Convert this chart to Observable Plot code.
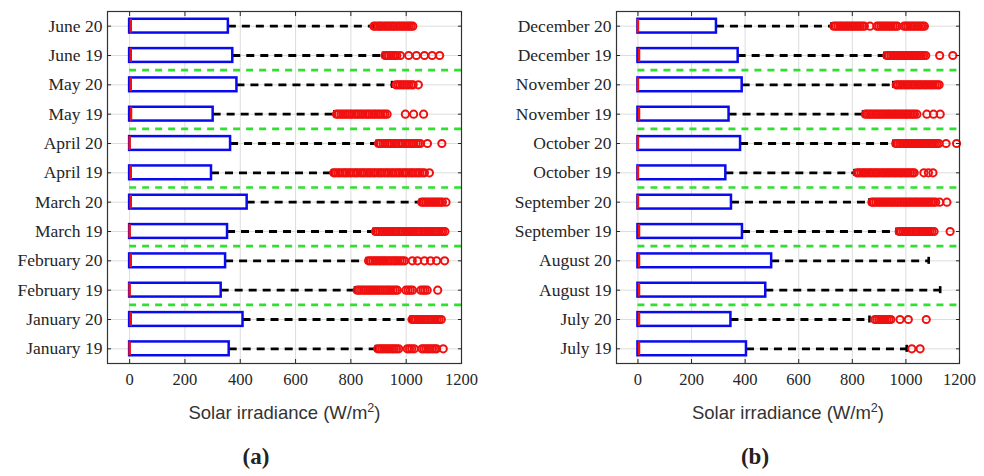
<!DOCTYPE html>
<html>
<head>
<meta charset="utf-8">
<script src="https://cdn.jsdelivr.net/npm/d3@7"></script>
<script src="https://cdn.jsdelivr.net/npm/@observablehq/plot@0.6"></script>
<style>
  body { margin: 0; background: #fff; }
  #wrap { display: flex; width: 984px; height: 476px; }
  .panel { position: relative; height: 476px; }
  .cap {
    position: absolute; top: 444px; transform: translateX(-50%);
    font-family: "Liberation Serif", serif; font-weight: bold; font-size: 23px; color: #222;
  }
</style>
</head>
<body>
<div id="wrap">
  <div class="panel" id="pa" style="width:490px"><div class="cap" style="left:256px">(a)</div></div>
  <div class="panel" id="pb" style="width:494px"><div class="cap" style="left:265px">(b)</div></div>
</div>
<script>
// Hourly solar irradiance (W/m²) per month, 2019 vs 2020 — box plot summaries.
const xTicks = [0, 200, 400, 600, 800, 1000, 1200];
const xLabelMain = "Solar irradiance (W/m";
const xLabelSup = "2";
const xLabelEnd = ")";

// Panel (a): January–June, listed top to bottom
const labelsA = ["June 20", "June 19", "May 20", "May 19", "April 20", "April 19",
  "March 20", "March 19", "February 20", "February 19", "January 20", "January 19"];
const q1A = [0, 0, 0, 0, 0, 0, 0, 0, 0, 0, 0, 0];
const medianA = [4, 4, 4, 5, 0, 4, 4, 0, 4, 0, 4, 0];
const q3A = [357, 373, 388, 302, 365, 296, 425, 354, 347, 331, 410, 360];
const whiskerA = [880, 916, 949, 740, 893, 732, 1050, 882, 857, 815, 1015, 890];
const outliersA = [
  [883, 890, 899, 905, 912, 921, 928, 936, 943, 951, 957, 966, 973, 981, 988, 995, 1004, 1010, 1017, 1024],
  [924, 931, 937, 945, 952, 960, 966, 979, 1009, 1037, 1066, 1094, 1121],
  [963, 971, 978, 986, 993, 1002, 1009, 1018, 1025, 1044],
  [748, 755, 764, 771, 780, 787, 796, 803, 812, 820, 827, 836, 843, 852, 860, 867, 876, 884, 891, 900, 907, 916, 923, 931, 997, 1027, 1063],
  [900, 907, 916, 923, 932, 940, 947, 956, 963, 972, 980, 987, 996, 1004, 1011, 1020, 1027, 1036, 1044, 1051, 1077, 1129],
  [738, 745, 754, 761, 770, 778, 785, 794, 801, 810, 818, 825, 834, 842, 849, 858, 866, 873, 882, 889, 898, 906, 913, 922, 930, 937, 946, 953, 962, 970, 977, 986, 994, 1001, 1010, 1018, 1025, 1034, 1042, 1049, 1058, 1066, 1084],
  [1056, 1063, 1071, 1078, 1086, 1094, 1101, 1109, 1116, 1124, 1131, 1144],
  [889, 896, 904, 912, 919, 926, 934, 942, 949, 957, 964, 972, 980, 987, 995, 1003, 1010, 1018, 1025, 1033, 1041, 1048, 1056, 1064, 1071, 1079, 1086, 1094, 1102, 1110, 1117, 1125, 1132, 1140],
  [864, 871, 879, 887, 894, 902, 909, 917, 924, 932, 939, 947, 955, 962, 970, 978, 986, 994, 1022, 1041, 1066, 1088, 1110, 1139],
  [823, 830, 838, 846, 853, 861, 868, 876, 883, 891, 899, 906, 914, 922, 930, 937, 945, 953, 961, 968, 999, 1007, 1015, 1023, 1053, 1061, 1068, 1076, 1114],
  [1021, 1028, 1036, 1044, 1051, 1058, 1066, 1073, 1081, 1089, 1096, 1104, 1111, 1119, 1127],
  [897, 905, 912, 919, 927, 935, 942, 950, 957, 965, 973, 1004, 1012, 1020, 1029, 1057, 1064, 1072, 1080, 1087, 1095, 1103, 1110, 1134]
];

// Panel (b): July–December, listed top to bottom
const labelsB = ["December 20", "December 19", "November 20", "November 19", "October 20", "October 19",
  "September 20", "September 19", "August 20", "August 19", "July 20", "July 19"];
const q1B = [0, 0, 0, 0, 0, 0, 0, 0, 0, 0, 0, 0];
const medianB = [0, 4, 0, 4, 0, 0, 0, 4, 4, 4, 4, 4];
const q3B = [293, 374, 389, 340, 383, 328, 349, 390, 499, 477, 347, 405];
const whiskerB = [722, 920, 953, 840, 953, 808, 864, 965, 1085, 1128, 864, 1003];
const outliersB = [
  [731, 738, 746, 754, 761, 769, 777, 784, 792, 800, 807, 815, 823, 830, 838, 845, 866, 892, 899, 907, 914, 922, 930, 937, 945, 953, 961, 968, 993, 1001, 1008, 1016, 1024, 1031, 1040, 1047, 1055, 1062, 1069],
  [929, 936, 944, 951, 959, 966, 974, 982, 989, 997, 1005, 1012, 1020, 1028, 1035, 1043, 1051, 1058, 1066, 1074, 1126, 1175],
  [964, 971, 979, 986, 994, 1002, 1009, 1017, 1025, 1032, 1040, 1048, 1055, 1063, 1071, 1078, 1086, 1094, 1101, 1109, 1117, 1124],
  [849, 856, 864, 871, 879, 887, 894, 902, 910, 917, 925, 933, 940, 948, 956, 963, 971, 979, 986, 994, 1002, 1009, 1017, 1025, 1032, 1041, 1078, 1103, 1128],
  [962, 969, 977, 984, 992, 1000, 1007, 1015, 1023, 1030, 1038, 1046, 1053, 1061, 1069, 1076, 1084, 1092, 1099, 1107, 1115, 1123, 1150, 1189],
  [818, 825, 833, 841, 848, 856, 864, 871, 879, 887, 894, 902, 910, 917, 925, 933, 940, 948, 956, 963, 971, 979, 986, 994, 1002, 1009, 1017, 1025, 1031, 1067, 1084, 1101],
  [873, 880, 888, 896, 903, 911, 919, 926, 934, 942, 949, 957, 965, 972, 980, 988, 995, 1003, 1011, 1018, 1026, 1034, 1041, 1049, 1057, 1064, 1072, 1080, 1087, 1095, 1103, 1111, 1126, 1153],
  [975, 982, 990, 997, 1005, 1013, 1020, 1028, 1036, 1043, 1051, 1059, 1066, 1074, 1082, 1089, 1097, 1105, 1165],
  [],
  [],
  [884, 891, 899, 906, 914, 921, 929, 937, 944, 978, 1009, 1076],
  [1022, 1053]
];

// Half heights of box, median line and whisker cap, in row units
const BOX_HALF = 0.235;
const CAP_HALF = 0.12;

const SERIF = "'Liberation Serif', 'Times New Roman', serif";
const SANS = "'Liberation Sans', Arial, sans-serif";

function boxPanel({labels, q1, median, q3, whisker, outliers, width, marginLeft, marginRight}) {
  const rows = labels.map((label, i) => ({
    label, pos: i + 1, q1: q1[i], median: median[i], q3: q3[i], whisker: whisker[i]
  }));
  const positions = rows.map(d => d.pos);
  const dots = outliers.flatMap((vals, i) => vals.map(v => ({pos: i + 1, value: v})));
  // dashed separators between months (where the month name changes)
  const month = s => s.split(" ")[0];
  const seps = rows.slice(0, -1)
    .filter((d, i) => month(d.label) !== month(rows[i + 1].label))
    .map(d => d.pos + 0.5);

  const svg = Plot.plot({
    width, height: 440,
    marginLeft, marginRight, marginTop: 11, marginBottom: 77,
    style: {color: "#262626", background: "transparent", overflow: "visible"},
    x: {domain: [-80, 1200]},
    y: {domain: [0.5, labels.length + 0.5], reverse: true},
    marks: [
      Plot.gridX(xTicks, {stroke: "#dcdcdc", strokeOpacity: 1}),
      Plot.gridY(positions, {stroke: "#dcdcdc", strokeOpacity: 1}),
      Plot.ruleY(seps, {x1: 0, x2: 1200, stroke: "#2fe02f", strokeWidth: 2.6, strokeDasharray: "7,6"}),
      Plot.ruleY(rows, {y: "pos", x1: "q3", x2: "whisker", stroke: "#000", strokeWidth: 2.8, strokeDasharray: "8,6"}),
      Plot.ruleX(rows, {x: "whisker", y1: d => d.pos - CAP_HALF, y2: d => d.pos + CAP_HALF, stroke: "#000", strokeWidth: 2.6}),
      Plot.rect(rows, {x1: "q1", x2: "q3", y1: d => d.pos - BOX_HALF, y2: d => d.pos + BOX_HALF,
        fill: "#fff", stroke: "#0a0aee", strokeWidth: 2.5}),
      Plot.ruleX(rows, {x: "median", y1: d => d.pos - BOX_HALF, y2: d => d.pos + BOX_HALF, stroke: "#f01010", strokeWidth: 2.5}),
      Plot.dot(dots, {x: "value", y: "pos", r: 3.6, stroke: "#f01010", strokeWidth: 2, fill: "none"}),
      Plot.frame({stroke: "#333", strokeWidth: 1.2}),
      Plot.axisY({ticks: positions, tickFormat: p => labels[p - 1], tickSize: 0, tickPadding: 5,
        fontSize: 17.5, fontFamily: SERIF, label: null}),
      Plot.axisY({anchor: "left", ticks: positions, tickSize: -4, tickFormat: () => "", label: null}),
      Plot.axisY({anchor: "right", ticks: positions, tickSize: -4, tickFormat: () => "", label: null}),
      Plot.axisX({ticks: xTicks, tickSize: 0, tickPadding: 10, tickFormat: d => `${d}`,
        fontSize: 16.5, fontFamily: SERIF, label: null}),
      Plot.axisX({anchor: "bottom", ticks: xTicks, tickSize: -4, tickFormat: () => "", label: null}),
      Plot.axisX({anchor: "top", ticks: xTicks, tickSize: -4, tickFormat: () => "", label: null}),
      Plot.text([xLabelMain], {frameAnchor: "bottom", dy: 55, fontFamily: SANS, fontSize: 18.5, fill: "#333",
        className: "xlabel"})
    ]
  });

  // axis title with a raised exponent on the unit
  d3.select(svg).selectAll(".xlabel text").each(function () {
    const t = d3.select(this);
    t.text(null);
    t.append("tspan").text(xLabelMain);
    t.append("tspan").attr("dy", "-0.5em").attr("font-size", "0.68em").text(xLabelSup);
    t.append("tspan").attr("dy", "0.34em").text(xLabelEnd);
  });
  return svg;
}

document.getElementById("pa").prepend(boxPanel({
  labels: labelsA, q1: q1A, median: medianA, q3: q3A, whisker: whiskerA, outliers: outliersA,
  width: 490, marginLeft: 107, marginRight: 29
}));
document.getElementById("pb").prepend(boxPanel({
  labels: labelsB, q1: q1B, median: medianB, q3: q3B, whisker: whiskerB, outliers: outliersB,
  width: 494, marginLeft: 126, marginRight: 25
}));
</script>
</body>
</html>
